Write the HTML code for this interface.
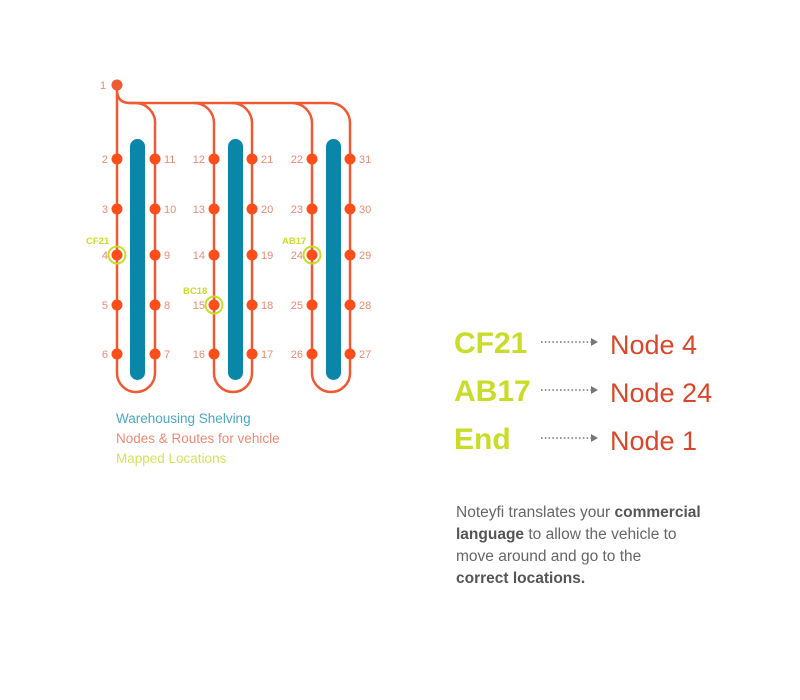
<!DOCTYPE html>
<html><head><meta charset="utf-8"><style>
body{margin:0;background:#fff;width:800px;height:700px;overflow:hidden;position:relative;font-family:"Liberation Sans",sans-serif}
.t{position:absolute;white-space:nowrap}
</style></head><body>
<svg width="800" height="700" style="position:absolute;left:0;top:0">
<g fill="#0a86a8">
<rect x="130" y="139" width="15" height="241" rx="7.5"/>
<rect x="228" y="139" width="15" height="241" rx="7.5"/>
<rect x="326" y="139" width="15" height="241" rx="7.5"/>
</g>
<g fill="none" stroke="#ef5a33" stroke-width="2.5">
<path d="M117 85 V373 A19 19 0 0 0 155 373 V125 A20 20 0 0 0 135 103 H130 Q117 103 117 90"/>
<path d="M130 103 H330 A20 20 0 0 1 350 123 V373 A19 19 0 0 1 312 373 V123 A20 20 0 0 0 292 103"/>
<path d="M194 103 A20 20 0 0 1 214 123 V373 A19 19 0 0 0 252 373 V123 A20 20 0 0 0 232 103"/>
</g>
<circle cx="117" cy="85" r="5.5" fill="#ef5a33"/>
<g fill="#ff4e1a">
<g id="c"><circle cx="117" cy="159" r="5.5"/><circle cx="117" cy="209" r="5.5"/><circle cx="117" cy="255" r="5.5"/><circle cx="117" cy="305" r="5.5"/><circle cx="117" cy="354" r="5.5"/></g>
<use href="#c" x="38"/><use href="#c" x="97"/><use href="#c" x="135"/><use href="#c" x="195"/><use href="#c" x="233"/>
</g>
<g fill="none" stroke="#c8dc28" stroke-width="2">
<circle cx="117" cy="255" r="8.5"/><circle cx="214" cy="305" r="8.5"/><circle cx="312" cy="255" r="8.5"/>
</g>
<g font-family="Liberation Sans" font-size="11" fill="#e98b73">
<text x="100" y="89">1</text>
<g text-anchor="end"><text x="108" y="163">2</text><text x="108" y="213">3</text><text x="108" y="259">4</text><text x="108" y="309">5</text><text x="108" y="358">6</text>
<text x="205" y="163">12</text><text x="205" y="213">13</text><text x="205" y="259">14</text><text x="205" y="309">15</text><text x="205" y="358">16</text>
<text x="303" y="163">22</text><text x="303" y="213">23</text><text x="303" y="259">24</text><text x="303" y="309">25</text><text x="303" y="358">26</text></g>
<text x="164" y="163">11</text><text x="164" y="213">10</text><text x="164" y="259">9</text><text x="164" y="309">8</text><text x="164" y="358">7</text>
<text x="261" y="163">21</text><text x="261" y="213">20</text><text x="261" y="259">19</text><text x="261" y="309">18</text><text x="261" y="358">17</text>
<text x="359" y="163">31</text><text x="359" y="213">30</text><text x="359" y="259">29</text><text x="359" y="309">28</text><text x="359" y="358">27</text>
</g>
<g font-family="Liberation Sans" font-size="9.5" font-weight="bold" fill="#c8dc28">
<text x="86" y="244">CF21</text><text x="183" y="294">BC18</text><text x="282" y="244">AB17</text>
</g>
<g stroke="#777" stroke-width="1.6" stroke-dasharray="1.6 2.2"><line x1="541" y1="342" x2="592" y2="342"/><line x1="541" y1="390" x2="592" y2="390"/><line x1="541" y1="438" x2="592" y2="438"/></g>
<g fill="#777"><path d="M591 338 L598 342 L591 346Z"/><path d="M591 386 L598 390 L591 394Z"/><path d="M591 434 L598 438 L591 442Z"/></g>
</svg>
<div class="t" style="left:116px;top:409px;font-size:13.5px;line-height:20px">
<div style="color:#4aa8c4">Warehousing Shelving</div>
<div style="color:#ef8a72">Nodes &amp; Routes for vehicle</div>
<div style="color:#d4e35c">Mapped Locations</div></div>
<div class="t" style="left:454px;top:320px;font-size:30px;font-weight:bold;color:#c8dc28;line-height:48px">CF21<br>AB17<br>End</div>
<div class="t" style="left:610px;top:321px;font-size:27px;color:#d9472b;line-height:48px">Node 4<br>Node 24<br>Node 1</div>
<div class="t" style="left:456px;top:502px;font-size:15.5px;line-height:22px;color:#666">Noteyfi translates your <b style="color:#555">commercial</b><br><b style="color:#555">language</b> to allow the vehicle to<br>move around and go to the<br><b style="color:#555">correct locations.</b></div>
</body></html>
